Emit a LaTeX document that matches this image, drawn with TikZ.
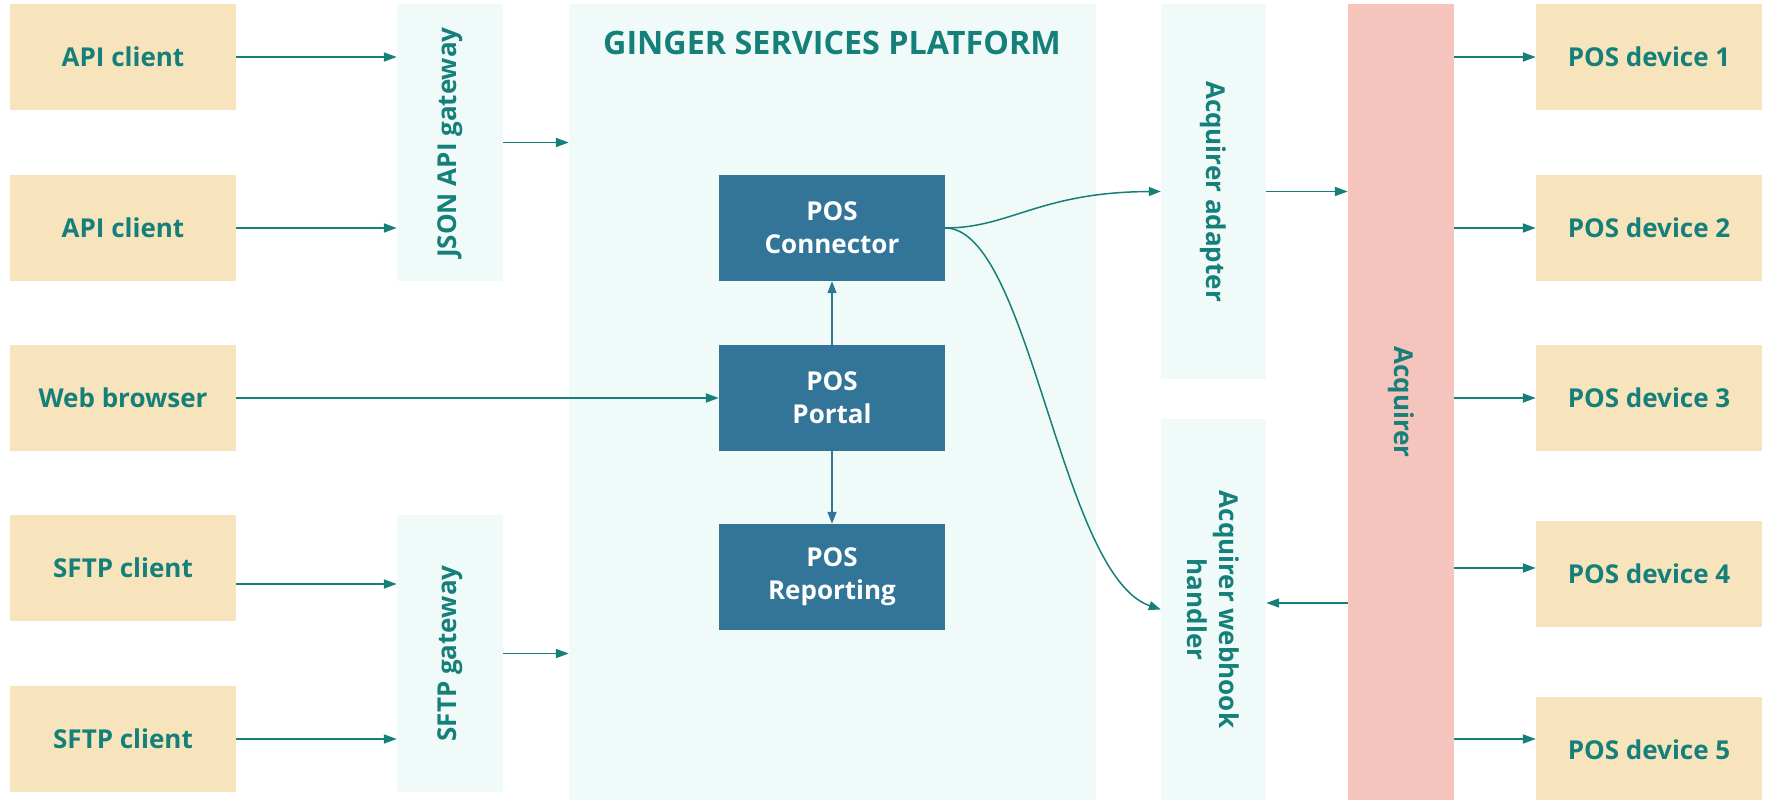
\documentclass[tikz,border=0pt]{standalone}
\usepackage{fontspec}
\setmainfont{Open Sans}
\usetikzlibrary{arrows.meta}
\definecolor{ctan}{HTML}{F7E3BC}
\definecolor{cpale}{HTML}{F0FAF8}
\definecolor{cteal}{HTML}{15807A}
\definecolor{cblue}{HTML}{337599}
\definecolor{cpink}{HTML}{F5C4BC}
\begin{document}
\begin{tikzpicture}[x=1pt,y=-1pt,
  lbl/.style={font=\fontsize{26}{32}\selectfont\bfseries, text=cteal},
  lbox/.style={fill=ctan, draw=none, minimum width=226pt, minimum height=106pt, inner sep=0pt, lbl},
  pbox/.style={fill=cpale, draw=none, inner sep=0pt},
  dbox/.style={fill=cblue, draw=none, minimum width=226pt, minimum height=106pt, inner sep=0pt, align=center,
    font=\fontsize{26}{33}\selectfont\bfseries, text=white},
  arr/.style={draw=cteal, line width=1.8pt, -{Triangle[length=13pt,width=9pt]}},
  carr/.style={draw=cteal, line width=1.5pt, -{Triangle[length=12pt,width=9pt]}},
  barr/.style={draw=cblue, line width=1.5pt, -{Triangle[length=12pt,width=9pt]}},
  vl/.style={lbl, rotate=90},
  vr/.style={lbl, rotate=-90, align=center}
]
\useasboundingbox (0,0) rectangle (1769,800);
% platform
\node[pbox, minimum width=527pt, minimum height=796pt] (plat) at (832.5,402) {};
\node[lbl, font=\fontsize{32.3}{36}\selectfont\bfseries] (title) at (832,43) {GINGER SERVICES PLATFORM};
% left clients
\node[lbox] (c1) at (123,57) {API client};
\node[lbox] (c2) at (123,228) {API client};
\node[lbox] (c3) at (123,398) {Web browser};
\node[lbox] (c4) at (123,568) {SFTP client};
\node[lbox] (c5) at (123,739) {SFTP client};
% gateways
\node[pbox, minimum width=106pt, minimum height=277pt] (gj) at (450,142.5) {};
\node[vl] (gjt) at (gj.center) {JSON API gateway};
\node[pbox, minimum width=106pt, minimum height=277pt] (gs) at (450,653.5) {};
\node[vl] (gst) at (gs.center) {SFTP gateway};
% inner boxes
\node[dbox] (conn) at (832,228) {POS\\Connector};
\node[dbox] (portal) at (832,398) {POS\\Portal};
\node[dbox] (report) at (832,577) {POS\\Reporting};
% acquirer side
\node[pbox, minimum width=105pt, minimum height=375pt] (adapter) at (1213.5,191.5) {};
\node[vr] (adaptert) at (adapter.center) {Acquirer adapter};
\node[pbox, minimum width=105pt, minimum height=381pt] (hook) at (1213.5,609.5) {};
\node[vr] (hookt) at (hook.center) {Acquirer webhook\\handler};
\node[fill=cpink, draw=none, inner sep=0pt, minimum width=106pt, minimum height=796pt] (acq) at (1401,402) {};
\node[vr] (acqt) at (acq.center) {Acquirer};
% devices
\node[lbox] (d1) at (1649,57) {POS device 1};
\node[lbox] (d2) at (1649,228) {POS device 2};
\node[lbox] (d3) at (1649,398) {POS device 3};
\node[lbox] (d4) at (1649,574) {POS device 4};
\node[lbox] (d5) at (1649,750) {POS device 5};
% arrows left
\draw[arr] (c1.east) -- (gj.west |- c1.east);
\draw[arr] (c2.east) -- (gj.west |- c2.east);
\draw[arr] (c4.east |- 0,584) -- (gs.west |- 0,584);
\draw[arr] (c5.east) -- (gs.west |- c5.east);
\draw[arr] (gj.east) -- (plat.west |- gj.east);
\draw[arr] (gs.east) -- (plat.west |- gs.east);
\draw[arr] (c3.east) -- (portal.west);
% inner
\draw[barr] (portal.north) -- (conn.south);
\draw[barr] (portal.south) -- (report.north);
% curves
\draw[carr] (conn.east) .. controls (1010,228) and (1040,192) .. (adapter.west);
\draw[carr] (conn.east) .. controls (1030,228) and (1060,575) .. (hook.west);
% acquirer arrows
\draw[arr] (adapter.east) -- (acq.west |- adapter.east);
\draw[arr] (acq.west |- 0,603) -- (hook.east |- 0,603);
\draw[arr] (acq.east |- d1.west) -- (d1.west);
\draw[arr] (acq.east |- d2.west) -- (d2.west);
\draw[arr] (acq.east |- d3.west) -- (d3.west);
\draw[arr] (acq.east |- 0,568) -- (d4.west |- 0,568);
\draw[arr] (acq.east |- 0,739) -- (d5.west |- 0,739);
\end{tikzpicture}
\end{document}
